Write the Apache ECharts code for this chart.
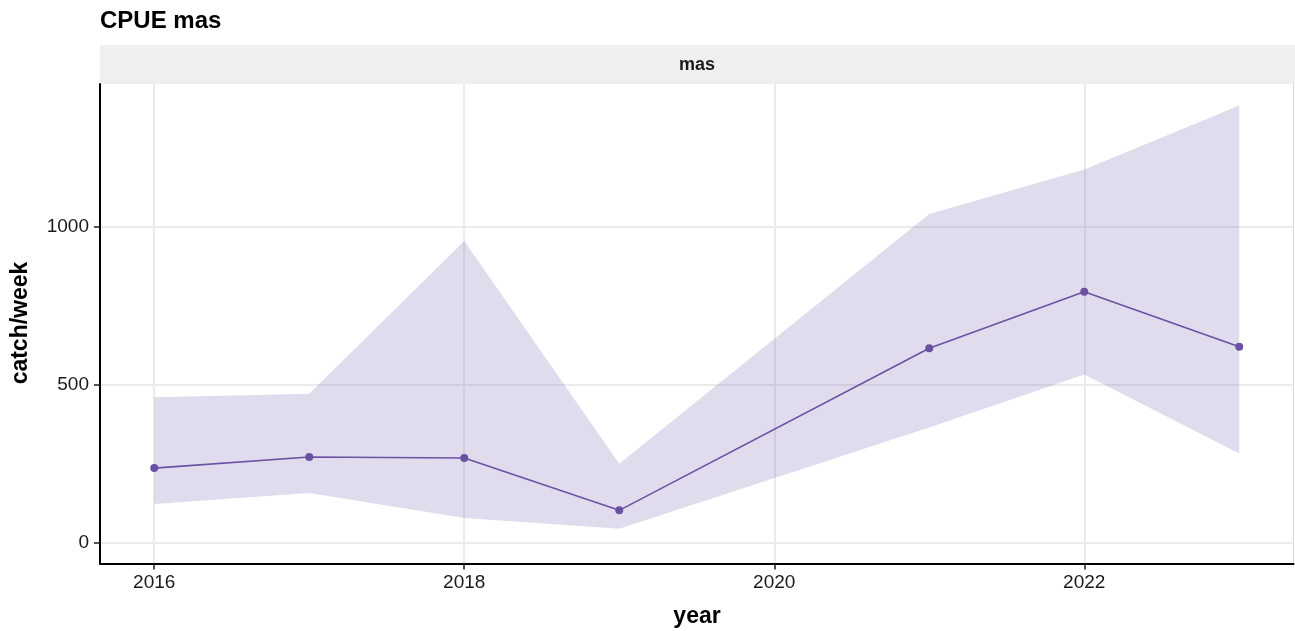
<!DOCTYPE html>
<html>
<head>
<meta charset="utf-8">
<script src="https://cdn.jsdelivr.net/npm/echarts@6/dist/echarts.min.js"></script>
<style>
  html, body { margin: 0; padding: 0; background: #ffffff; }
  #chart { width: 1295px; height: 631px; }
</style>
</head>
<body>
<div id="chart"></div>
<script>
// CPUE for "mas": yearly mean catch per week with its interval band
const years = [2016, 2017, 2018, 2019, 2021, 2022, 2023];
const cpueMean = [236, 271, 268, 102, 616, 795, 621];
const cpueLower = [122, 157, 78, 44, 365, 533, 282];
const cpueUpper = [461, 472, 956, 250, 1042, 1183, 1386];

const xTicks = [2016, 2018, 2020, 2022];
const yTicks = [0, 500, 1000];

const titleText = 'CPUE mas';
const stripText = 'mas';
const xTitle = 'year';
const yTitle = 'catch/week';

const lineColor = '#6a51a3';
const bandColor = 'rgba(106, 81, 163, 0.2)';
const fontFamily = '"Liberation Sans", Arial, Helvetica, sans-serif';

const meanPoints = years.map((y, i) => [y, cpueMean[i]]);

const chart = echarts.init(document.getElementById('chart'), null, { renderer: 'canvas' });

chart.setOption({
  animation: false,
  backgroundColor: '#ffffff',
  textStyle: { fontFamily: fontFamily },
  title: {
    text: titleText,
    left: 100,
    top: 9,
    padding: 0,
    textStyle: { fontSize: 24, fontWeight: 'bold', color: '#000000', fontFamily: fontFamily }
  },
  grid: { left: 100, right: 1.5, top: 84, bottom: 67.5, containLabel: false },
  xAxis: {
    type: 'value',
    min: 2015.65,
    max: 2023.35,
    axisLine: { show: true, onZero: false, lineStyle: { color: '#000000', width: 2 } },
    axisTick: { show: true, length: 6, customValues: xTicks, lineStyle: { color: '#1a1a1a', width: 1.5 } },
    axisLabel: {
      customValues: xTicks, fontSize: 19, color: '#1a1a1a', margin: 10, fontFamily: fontFamily,
      formatter: function (v) { return String(v); }
    },
    splitLine: { show: true, lineStyle: { color: '#ebebeb', width: 2 } }
  },
  yAxis: {
    type: 'value',
    min: -66.5,
    max: 1454,
    axisLine: { show: true, onZero: false, lineStyle: { color: '#000000', width: 2 } },
    axisTick: { show: true, length: 6, customValues: yTicks, lineStyle: { color: '#1a1a1a', width: 1.5 } },
    axisLabel: {
      customValues: yTicks, fontSize: 19, color: '#1a1a1a', margin: 11, fontFamily: fontFamily,
      formatter: function (v) { return String(v); }
    },
    splitLine: { show: true, lineStyle: { color: '#ebebeb', width: 2 } }
  },
  graphic: [
    {
      type: 'rect',
      shape: { x: 100, y: 45, width: 1195, height: 39 },
      style: { fill: '#efefef' },
      z: 0
    },
    {
      type: 'text',
      x: 697, y: 65,
      style: {
        text: stripText, fontSize: 18, fontWeight: 'bold', fill: '#1a1a1a',
        fontFamily: fontFamily, align: 'center', verticalAlign: 'middle'
      }
    },
    {
      type: 'line',
      shape: { x1: 1293.5, y1: 84, x2: 1293.5, y2: 563 },
      style: { stroke: '#d6d6d6', lineWidth: 1 }
    },
    {
      type: 'text',
      x: 697, y: 617,
      style: {
        text: xTitle, fontSize: 23, fontWeight: 'bold', fill: '#000000',
        fontFamily: fontFamily, align: 'center', verticalAlign: 'middle'
      }
    },
    {
      type: 'text',
      x: 21, y: 323,
      rotation: Math.PI / 2,
      style: {
        text: yTitle, fontSize: 23, fontWeight: 'bold', fill: '#000000',
        fontFamily: fontFamily, align: 'center', verticalAlign: 'middle'
      }
    }
  ],
  series: [
    {
      // interval band drawn as one polygon: upper edge forward, lower edge back
      type: 'custom',
      data: [0],
      z: 1,
      silent: true,
      renderItem: function (params, api) {
        const pts = [];
        for (let i = 0; i < years.length; i++) pts.push(api.coord([years[i], cpueUpper[i]]));
        for (let i = years.length - 1; i >= 0; i--) pts.push(api.coord([years[i], cpueLower[i]]));
        return {
          type: 'polygon',
          shape: { points: pts },
          style: { fill: bandColor, stroke: null }
        };
      }
    },
    {
      type: 'line',
      data: meanPoints,
      z: 2,
      symbol: 'circle',
      symbolSize: 8,
      showSymbol: true,
      lineStyle: { color: lineColor, width: 1.6 },
      itemStyle: { color: lineColor },
      silent: true
    }
  ]
});
</script>
</body>
</html>
